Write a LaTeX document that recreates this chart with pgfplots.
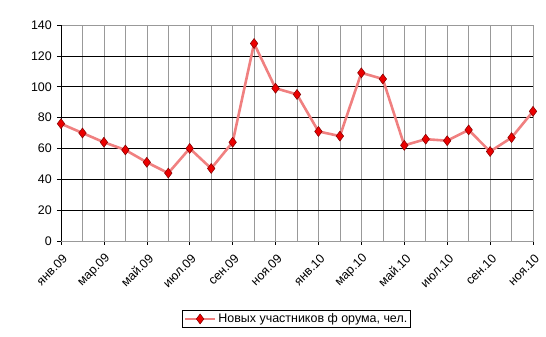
\documentclass[border=0pt]{standalone}
\usepackage{fontspec}
\setmainfont{Liberation Sans}
\usepackage{pgfplots}
\pgfplotsset{compat=1.18}
\definecolor{linec}{RGB}{240,128,128}
\definecolor{markred}{RGB}{235,0,0}
\definecolor{markdark}{RGB}{128,0,0}
\begin{document}
\begin{tikzpicture}
\path[use as bounding box] (0,0) rectangle (546bp,337bp);
\begin{axis}[
  at={(61bp,96bp)}, anchor=south west,
  scale only axis, width=472bp, height=216bp,
  xmin=0, xmax=22, ymin=0, ymax=140,
  xtick={0,2,...,22},
  minor xtick={1,3,...,21},
  xticklabels={янв.09,мар.09,май.09,июл.09,сен.09,ноя.09,янв.10,мар.10,май.10,июл.10,сен.10,ноя.10},
  ytick={0,20,...,140},
  xmajorgrids, xminorgrids, ymajorgrids,
  major x grid style={gray!80, line width=0.6pt},
  minor x grid style={gray!80, line width=0.6pt},
  major y grid style={black, line width=0.6pt},
  axis line style={gray!80, line width=0.6pt},
  tick align=outside,
  major tick length=4bp,
  minor tick length=0pt,
  tick style={black, line width=0.6pt},
  xtick pos=bottom, ytick pos=left,
  /pgf/number format/assume math mode=true,
  tick label style={font=\fontsize{12.5}{14}\selectfont},
  xticklabel style={rotate=45, anchor=east, inner sep=0pt, xshift=-5bp, yshift=-11bp},
  yticklabel style={inner sep=2pt, xshift=-3bp},
  legend style={at={(0.499,-0.361)}, anchor=center, draw=black, line width=0.6pt,
    font=\fontsize{12.5}{14}\selectfont, inner sep=1.5pt, legend cell align=left,
    /tikz/every even column/.append style={column sep=1bp}},
  legend image code/.code={
    \draw[#1, mark repeat=2, mark phase=2] plot coordinates {(0bp,0bp) (15bp,0bp) (30bp,0bp)};
  },
]
\addplot[color=linec, line width=2.6bp, mark=diamond*, mark size=5bp,
  mark options={fill=markred, draw=markdark, line width=0.5pt, solid}]
  coordinates {
  (0,76) (1,70) (2,64) (3,59) (4,51) (5,44) (6,60) (7,47) (8,64) (9,128)
  (10,99) (11,95) (12,71) (13,68) (14,109) (15,105) (16,62) (17,66) (18,65)
  (19,72) (20,58) (21,67) (22,84)
  };
\addlegendentry{Новых участников ф орума, чел.}
\draw[black, line width=0.6pt] (rel axis cs:0,0) -- (rel axis cs:0,1);
\draw[black, line width=0.6pt] (rel axis cs:0,0) -- (rel axis cs:1,0);
\end{axis}
\end{tikzpicture}
\end{document}
